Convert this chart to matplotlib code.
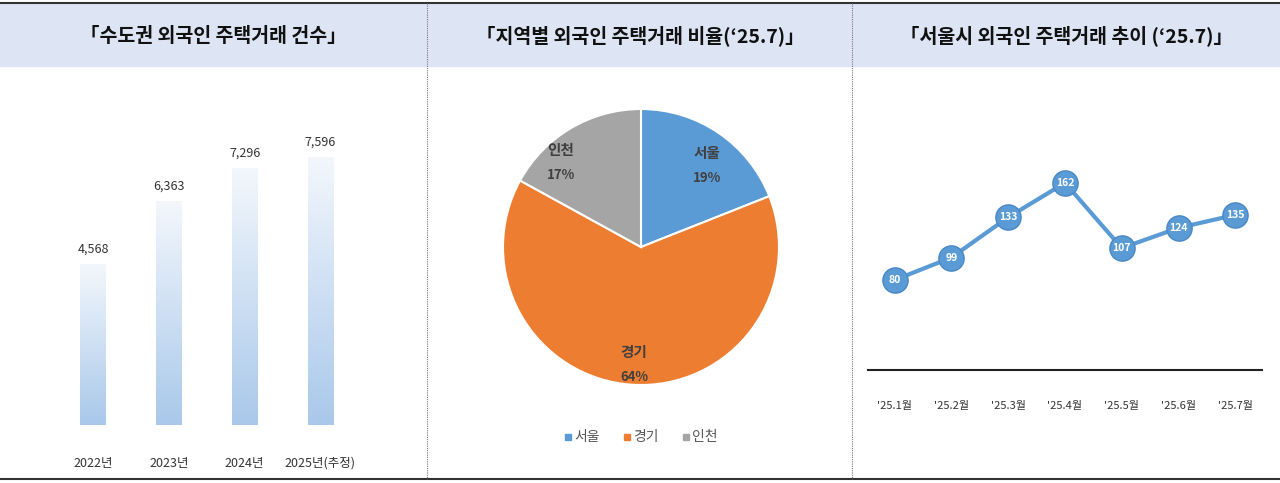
import matplotlib
matplotlib.use("Agg")
import matplotlib.pyplot as plt
import numpy as np
from matplotlib.colors import LinearSegmentedColormap
from matplotlib.patches import Rectangle

plt.rcParams['font.family'] = ['Noto Sans CJK KR', 'DejaVu Sans']

titles = ["「수도권 외국인 주택거래 건수」", "「지역별 외국인 주택거래 비율(‘25.7)」", "「서울시 외국인 주택거래 추이 (‘25.7)」"]
bar_cats = ["2022년", "2023년", "2024년", "2025년(추정)"]
bar_vals = [4568, 6363, 7296, 7596]
pie_labels = ["서울", "경기", "인천"]
pie_vals = [19, 64, 17]
pie_colors = ["#5b9bd5", "#ed7d31", "#a5a5a5"]
line_cats = ["'25.1월", "'25.2월", "'25.3월", "'25.4월", "'25.5월", "'25.6월", "'25.7월"]
line_vals = [80, 99, 133, 162, 107, 124, 135]

W, H = 1280, 483
fig = plt.figure(figsize=(W/100, H/100), dpi=100)
def rect(x0, y0, x1, y1):
    return [x0/W, 1-y1/H, (x1-x0)/W, (y1-y0)/H]

bg = fig.add_axes([0, 0, 1, 1]); bg.set_xlim(0, W); bg.set_ylim(H, 0); bg.axis('off')
bg.add_patch(Rectangle((0, 4), W, 62, color="#dde5f4", zorder=0))
bg.plot([0, W], [3, 3], color="#333333", lw=1.5)
bg.plot([0, W], [479, 479], color="#333333", lw=1.5)
for x in [427, 852]:
    bg.plot([x, x], [3, 479], color="#777777", lw=0.8, ls=(0, (1, 1)))
for cx, t in zip([213, 640, 1066], titles):
    bg.text(cx, 36, t, ha='center', va='center', fontsize=14, fontweight='bold', color='#111111')

# Bar chart
ax = fig.add_axes(rect(50, 100, 400, 425))
ax.axis('off')
cmap = LinearSegmentedColormap.from_list("g", ["#a9c8ea", "#f3f7fc"])
grad = np.linspace(0, 1, 256).reshape(-1, 1)
for i, v in enumerate(bar_vals):
    ax.imshow(grad, extent=(i-0.17, i+0.17, 0, v), origin='lower', cmap=cmap, aspect='auto', zorder=2)
    ax.text(i, v+250, f"{v:,}", ha='center', va='bottom', fontsize=9, color='#333333')
    ax.text(i, -900, bar_cats[i], ha='center', va='top', fontsize=9, color='#333333', clip_on=False)
ax.set_xlim(-0.57, 4.05); ax.set_ylim(0, 9233)

# Pie
axp = fig.add_axes(rect(503, 109, 779, 385))
axp.pie(pie_vals, colors=pie_colors, startangle=90, counterclock=False, radius=1,
        wedgeprops=dict(edgecolor='white', linewidth=1.5))
axp.set_xlim(-1, 1); axp.set_ylim(-1, 1)
pos = [(0.48, 0.6), (-0.05, -0.84), (-0.58, 0.62)]
for (px, py), l, v in zip(pos, pie_labels, pie_vals):
    axp.text(px, py+0.08, l, ha='center', va='center', fontsize=10.5, fontweight='bold', color='#404040')
    axp.text(px, py-0.1, f"{v}%", ha='center', va='center', fontsize=9.5, fontweight='bold', color='#404040')
for cx, l, c in zip([572, 631, 690], pie_labels, pie_colors):
    bg.add_patch(Rectangle((cx-7, 434), 6, 6, color=c))
    bg.text(cx+2, 437, l, ha='left', va='center', fontsize=10, color='#555555')

# Line chart
axl = fig.add_axes(rect(868, 100, 1262, 370))
axl.set_xlim(-0.47, 6.47); axl.set_ylim(4, 232)
x = np.arange(len(line_vals))
axl.plot(x, line_vals, color="#5b9bd5", lw=3, zorder=2)
axl.scatter(x, line_vals, s=330, color="#5b9bd5", edgecolor='#4a88c4', zorder=3)
for xi, v in zip(x, line_vals):
    axl.text(xi, v, str(v), ha='center', va='center', fontsize=7.5, fontweight='bold', color='white', zorder=4)
for s in ['top', 'right', 'left']:
    axl.spines[s].set_visible(False)
axl.spines['bottom'].set_color('#222222'); axl.spines['bottom'].set_linewidth(1.5)
axl.set_yticks([])
axl.set_xticks(x); axl.set_xticklabels(line_cats, fontsize=8, color='#333333')
axl.tick_params(axis='x', length=0, pad=22)

fig.savefig("out.png", dpi=100)
